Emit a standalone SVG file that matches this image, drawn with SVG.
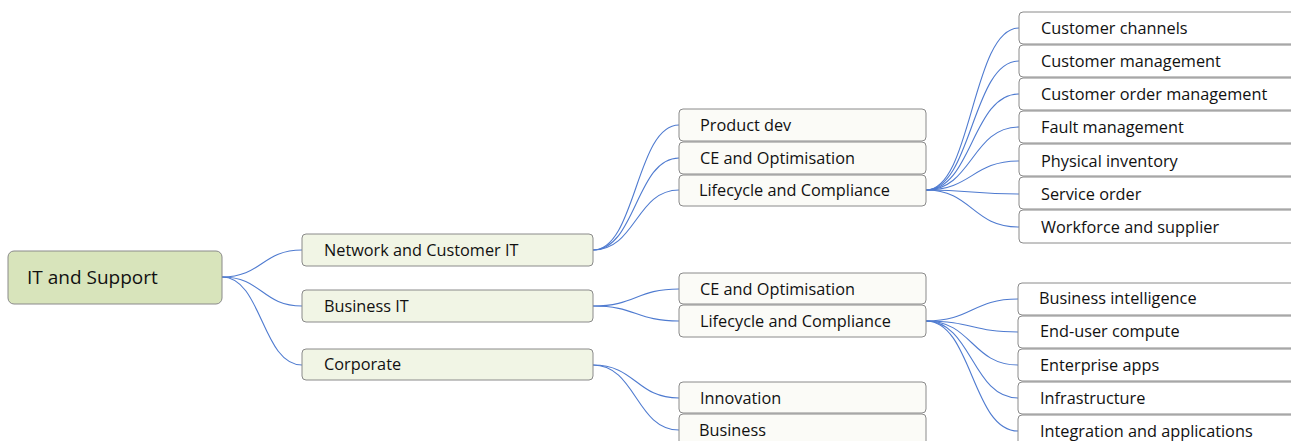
<svg xmlns="http://www.w3.org/2000/svg" width="1291" height="441" viewBox="0 0 1291 441">
<style>
.n rect{stroke:#8a8a8a;stroke-width:1}
.root rect{fill:#d8e4bb}
.l1 rect{fill:#f1f5e5}
.l2 rect{fill:#fbfbf7}
.l3 rect{fill:#ffffff}
text{font-family:"Open Sans","Noto Sans","Liberation Sans",sans-serif;font-size:16.3px;fill:#111111}
.root text{font-size:19px}
#connectors path{fill:none;stroke:#4f7bd0;stroke-width:1.1}
</style>
<rect width="1291" height="441" fill="#ffffff"/>
<g id="connectors">
<path d="M222,277 C262,277 262,250 302,250"/>
<path d="M222,277 C262,277 262,306 302,306"/>
<path d="M222,277 C262,277 262,365 302,365"/>
<path d="M593,250 C636,250 636,125 679,125"/>
<path d="M593,250 C636,250 636,158 679,158"/>
<path d="M593,250 C636,250 636,190 679,190"/>
<path d="M593,306 C636,306 636,289 679,289"/>
<path d="M593,306 C636,306 636,321 679,321"/>
<path d="M593,365 C636,365 636,398 679,398"/>
<path d="M593,365 C636,365 636,430 679,430"/>
<path d="M926,190 C972,190 972,28 1019,28"/>
<path d="M926,190 C972,190 972,61 1019,61"/>
<path d="M926,190 C972,190 972,94 1019,94"/>
<path d="M926,190 C972,190 972,127 1019,127"/>
<path d="M926,190 C972,190 972,161 1019,161"/>
<path d="M926,190 C972,190 972,194 1019,194"/>
<path d="M926,190 C972,190 972,227 1019,227"/>
<path d="M926,321 C972,321 972,299 1018,299"/>
<path d="M926,321 C972,321 972,332 1018,332"/>
<path d="M926,321 C972,321 972,365 1018,365"/>
<path d="M926,321 C972,321 972,398 1018,398"/>
<path d="M926,321 C972,321 972,431 1018,431"/>
</g>
<g id="root" class="n root"><rect x="8" y="251" width="214" height="53" rx="6"/><text x="27" y="284">IT and Support</text></g>
<g id="n-network" class="n l1"><rect x="302" y="234" width="291" height="32" rx="4"/><text x="324" y="256">Network and Customer IT</text></g>
<g id="n-business" class="n l1"><rect x="302" y="290" width="291" height="32" rx="4"/><text x="324" y="312">Business IT</text></g>
<g id="n-corporate" class="n l1"><rect x="302" y="349" width="291" height="31" rx="4"/><text x="324" y="370">Corporate</text></g>
<g id="n-productdev" class="n l2"><rect x="679" y="109" width="247" height="32" rx="4"/><text x="700" y="131">Product dev</text></g>
<g id="n-ce1" class="n l2"><rect x="679" y="142" width="247" height="32" rx="4"/><text x="700" y="164">CE and Optimisation</text></g>
<g id="n-lc1" class="n l2"><rect x="679" y="175" width="247" height="31" rx="4"/><text x="699" y="196">Lifecycle and Compliance</text></g>
<g id="n-ce2" class="n l2"><rect x="679" y="273" width="247" height="31" rx="4"/><text x="700" y="295">CE and Optimisation</text></g>
<g id="n-lc2" class="n l2"><rect x="679" y="305" width="247" height="32" rx="4"/><text x="700" y="327">Lifecycle and Compliance</text></g>
<g id="n-innovation" class="n l2"><rect x="679" y="382" width="247" height="31" rx="4"/><text x="700" y="404">Innovation</text></g>
<g id="n-business2" class="n l2"><rect x="679" y="414" width="247" height="40" rx="4"/><text x="699" y="436">Business</text></g>
<g id="n-cc" class="n l3"><rect x="1019" y="12" width="280" height="32" rx="4"/><text x="1041" y="34">Customer channels</text></g>
<g id="n-cm" class="n l3"><rect x="1019" y="45" width="280" height="32" rx="4"/><text x="1041" y="67">Customer management</text></g>
<g id="n-com" class="n l3"><rect x="1019" y="78" width="280" height="32" rx="4"/><text x="1041" y="100">Customer order management</text></g>
<g id="n-fm" class="n l3"><rect x="1019" y="111" width="280" height="32" rx="4"/><text x="1041" y="133">Fault management</text></g>
<g id="n-pi" class="n l3"><rect x="1019" y="144" width="280" height="32" rx="4"/><text x="1041" y="167">Physical inventory</text></g>
<g id="n-so" class="n l3"><rect x="1019" y="177" width="280" height="32" rx="4"/><text x="1041" y="200">Service order</text></g>
<g id="n-ws" class="n l3"><rect x="1019" y="210" width="280" height="33" rx="4"/><text x="1041" y="233">Workforce and supplier</text></g>
<g id="n-bi" class="n l3"><rect x="1018" y="283" width="280" height="32" rx="4"/><text x="1039" y="304">Business intelligence</text></g>
<g id="n-euc" class="n l3"><rect x="1018" y="316" width="280" height="32" rx="4"/><text x="1040" y="337">End-user compute</text></g>
<g id="n-ea" class="n l3"><rect x="1018" y="349" width="280" height="32" rx="4"/><text x="1040" y="371">Enterprise apps</text></g>
<g id="n-inf" class="n l3"><rect x="1018" y="382" width="280" height="32" rx="4"/><text x="1040" y="404">Infrastructure</text></g>
<g id="n-ia" class="n l3"><rect x="1018" y="415" width="280" height="40" rx="4"/><text x="1040" y="437">Integration and applications</text></g>
</svg>
